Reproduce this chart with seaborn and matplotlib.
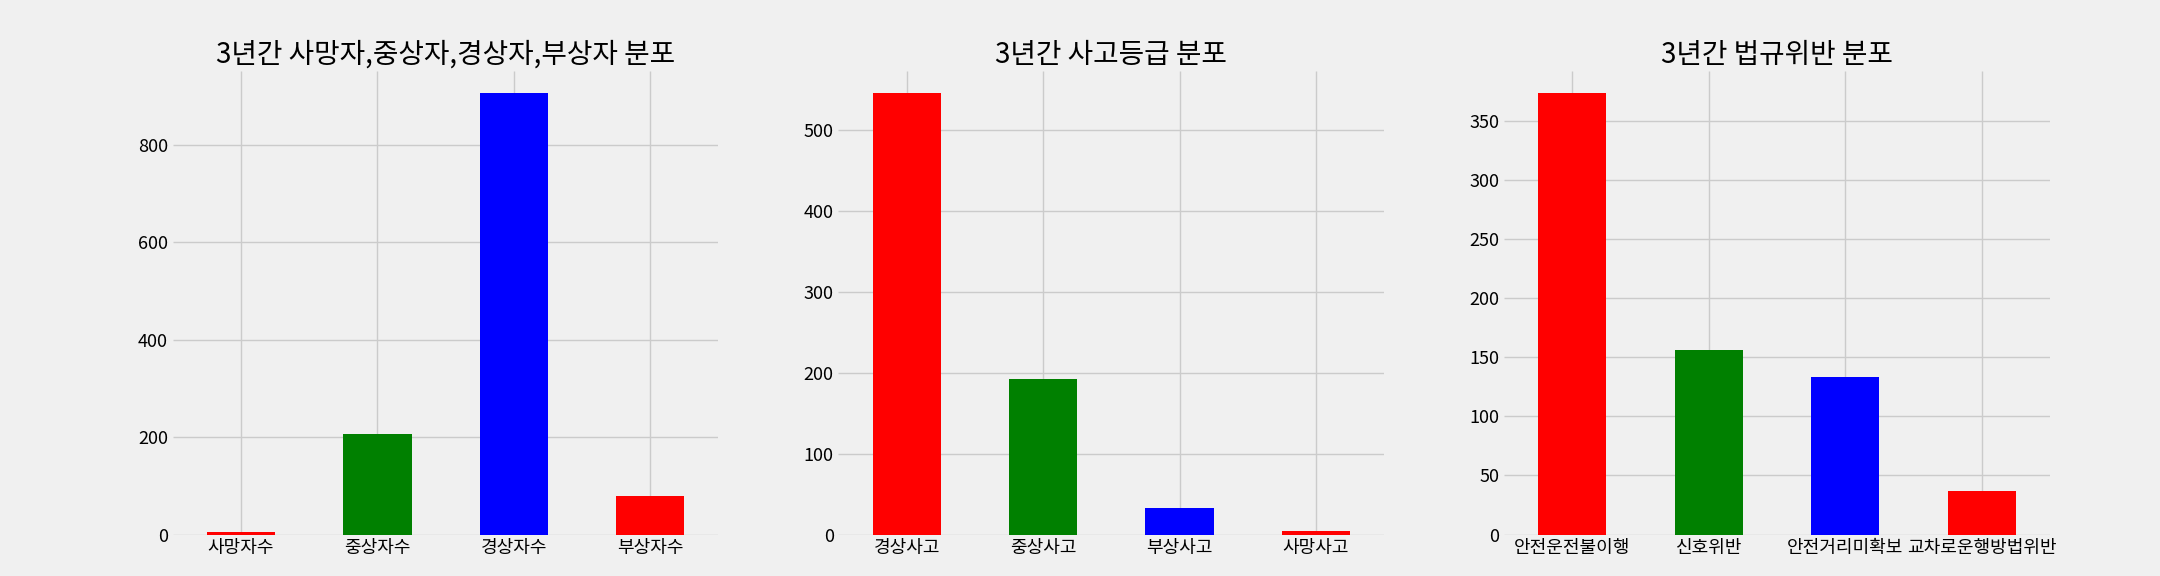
import matplotlib
matplotlib.use("Agg")
import matplotlib.pyplot as plt
import seaborn as sns
import pandas as pd

plt.style.use("fivethirtyeight")
plt.rcParams['font.family'] = ['Noto Sans CJK KR', 'DejaVu Sans']

cats1 = ['사망자수', '중상자수', '경상자수', '부상자수']
vals1 = [5, 207, 905, 80]
cats2 = ['경상사고', '중상사고', '부상사고', '사망사고']
vals2 = [545, 192, 33, 4]
cats3 = ['안전운전불이행', '신호위반', '안전거리미확보', '교차로운행방법위반']
vals3 = [373, 156, 133, 37]
titles = ['3년간 사망자,중상자,경상자,부상자 분포', '3년간 사고등급 분포', '3년간 법규위반 분포']
colors = ['red', 'green', 'blue', 'red']

fig, axes = plt.subplots(1, 3, figsize=(21.6, 5.76), dpi=100)
fig.patch.set_facecolor('#f0f0f0')
fig.subplots_adjust(left=0.08, right=0.949, top=0.876, bottom=0.072, wspace=0.22)
for ax, cats, vals, t in zip(axes, [cats1, cats2, cats3], [vals1, vals2, vals3], titles):
    df = pd.DataFrame({'c': cats, 'v': vals})
    sns.barplot(data=df, x='c', y='v', hue='c', palette=colors, width=0.5,
                legend=False, ax=ax, saturation=1)
    ax.set_xlabel('')
    ax.set_ylabel('')
    ax.set_title(t, fontsize=20)
    ax.tick_params(labelsize=13)
    ax.set_facecolor('#f0f0f0')
    ax.grid(True, axis='both', color='#cbcbcb', linewidth=1)
    ax.set_axisbelow(True)
    for s in ax.spines.values():
        s.set_visible(False)

fig.savefig('out.png', dpi=100, facecolor=fig.get_facecolor())
